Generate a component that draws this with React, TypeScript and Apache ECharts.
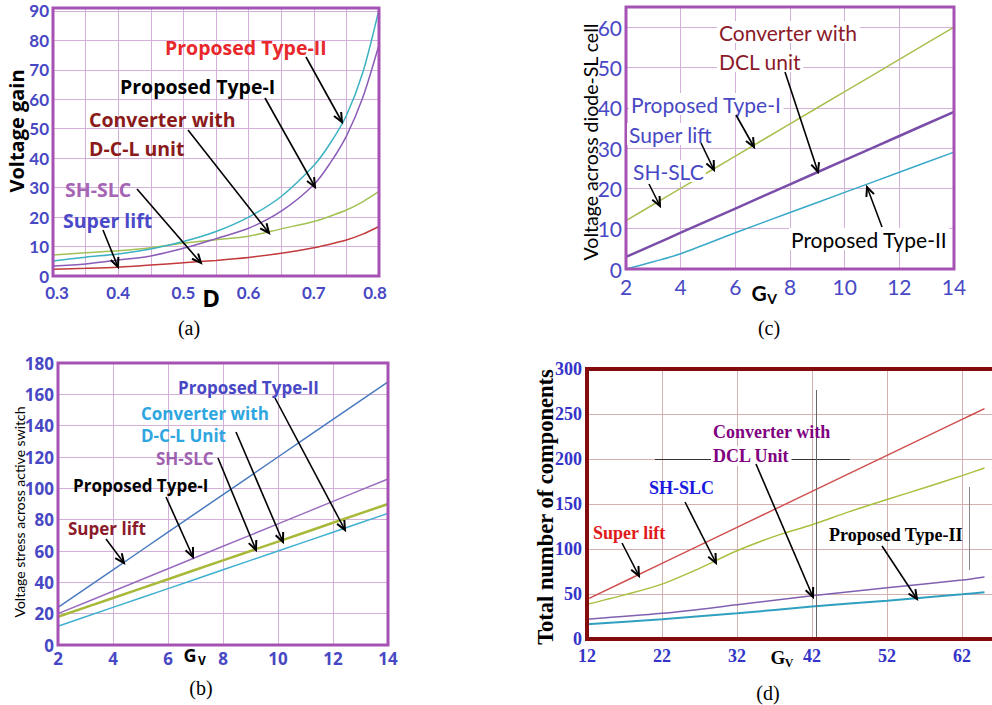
import React, { useEffect, useRef } from 'react';
import * as echarts from 'echarts';

// ---------- Panel (a): Voltage gain vs D ----------
const A_D = [0.3, 0.35, 0.4, 0.45, 0.5, 0.55, 0.6, 0.65, 0.7, 0.725, 0.75, 0.775, 0.8];
const A_TYPE2 = [5.1, 6.4, 7.5, 9.2, 11.7, 15.1, 20.0, 27.0, 37.5, 45, 54.5, 69, 90.5];
const A_TYPE1 = [3.4, 4.1, 5.4, 6.8, 9.4, 12.7, 16.2, 22, 31, 38.3, 47.5, 60.5, 78.5];
const A_DCL = [7.1, 7.9, 8.6, 9.6, 11.1, 12.3, 13.5, 16, 18.5, 20.3, 22.4, 25.2, 28.7];
const A_SL = [2.3, 2.6, 3.0, 3.7, 4.5, 5.3, 6.3, 7.7, 9.6, 10.8, 12.2, 14.2, 16.8];

// ---------- Panel (b): Voltage stress across active switch ----------
const B_GV = [2, 4, 6, 8, 10, 12, 14];
const B_BLUE = [24, 48, 72, 96, 120, 144, 168];
const B_PURPLE = [20, 34.3, 48.7, 63, 77.3, 91.7, 106];
const B_GREEN = [18, 30, 42, 54, 66, 78, 90];
const B_CYAN = [12, 24, 36, 48, 60, 72, 84];

// ---------- Panel (c): Voltage across diode-SL cell ----------
const C_GV = [2, 3, 4, 6, 8, 10, 12, 14];
const C_GREEN = [12, 16, 20, 28, 36, 44, 52, 60];
const C_PURPLE = [3, 6, 9, 15, 21, 27, 33, 39];
const C_CYAN = [0, 1.8, 3.8, 9, 14, 19, 24, 29];

// ---------- Panel (d): Total number of components ----------
const D_GV_RED = [12, 22, 32, 42, 52, 62, 65];
const D_RED = [44, 84, 124, 164, 204, 244, 256];
const D_GV_GREEN = [12, 17, 22, 27, 32, 37, 42, 47, 52, 57, 62, 65];
const D_GREEN = [38.5, 49, 61, 78.5, 98, 114, 127, 141.5, 155, 168, 181.5, 190];
const D_GV_LOW = [12, 22, 32, 42, 52, 62, 65];
const D_PURPLE = [22, 28.5, 38, 48, 57, 65.5, 69];
const D_CYAN = [16.3, 22, 28.5, 36, 42.6, 49.6, 52];

const LATO = 'Lato, "Noto Sans", sans-serif';
const OPEN = '"Open Sans", Lato, sans-serif';
const SERIF = '"Liberation Serif", "DejaVu Serif", serif';
const TICK_BLUE = '#4848c4';
const GRID_PURPLE_FRAME = '#d2b0da';
const GRID_RED_FRAME = '#d4b0b0';

const pairs = (xs: number[], ys: number[]) => xs.map((x, i) => [x, ys[i]]);

const GRIDS = [
  { left: 53, top: 8, width: 326, height: 268 }, // a
  { left: 58, top: 363, width: 330, height: 282 }, // b
  { left: 626, top: 7, width: 328, height: 262 }, // c
  { left: 587, top: 369, width: 413, height: 270 }, // d
];

function label(text: string, x: number, y: number, fill: string, font: string, size: number, bg?: boolean) {
  const style: any = {
    text, fill, font, lineHeight: size,
    textAlign: 'left', align: 'left',
    textVerticalAlign: 'middle', verticalAlign: 'middle',
  };
  if (bg) {
    style.backgroundColor = '#ffffff';
    style.padding = [0, 2];
  }
  return { type: 'text', x, y, z: 30, style };
}

function centered(text: string, x: number, y: number, font: string, rot = 0, fill = '#000') {
  return {
    type: 'text', x, y, rotation: rot, z: 30,
    style: {
      text, fill, font,
      textAlign: 'center', align: 'center',
      textVerticalAlign: 'middle', verticalAlign: 'middle',
    },
  };
}

function arrow(x1: number, y1: number, x2: number, y2: number) {
  const a = Math.atan2(y2 - y1, x2 - x1);
  const h = 10;
  const sp = 0.42;
  const p1 = [x2 - h * Math.cos(a - sp), y2 - h * Math.sin(a - sp)];
  const p2 = [x2 - h * Math.cos(a + sp), y2 - h * Math.sin(a + sp)];
  return {
    type: 'group', z: 35,
    children: [
      { type: 'line', z: 35, shape: { x1, y1, x2, y2 }, style: { stroke: '#000', lineWidth: 1.6 } },
      { type: 'polyline', z: 35, shape: { points: [p1, [x2, y2], p2] }, style: { stroke: '#000', lineWidth: 2, fill: null } },
    ],
  };
}

function border(g: any, color: string, w: number) {
  return {
    type: 'rect', z: 20,
    shape: { x: g.left, y: g.top, width: g.width, height: g.height },
    style: { stroke: color, lineWidth: w, fill: null },
  };
}

function axis(gridIndex: number, min: number, max: number, interval: number, lab: any, gridColor: string) {
  return {
    type: 'value', gridIndex, min, max, interval,
    axisLine: { show: false }, axisTick: { show: false },
    splitLine: { show: true, lineStyle: { color: gridColor, width: 1, type: 'solid' } },
    axisLabel: { showMaxLabel: false, ...lab },
  };
}

function line(name: string, xi: number, data: number[][], color: string, width = 1.5) {
  return {
    type: 'line', name, xAxisIndex: xi, yAxisIndex: xi, data,
    smooth: 0.3, showSymbol: false, symbol: 'none',
    lineStyle: { color, width }, itemStyle: { color }, z: 5,
  };
}

export default function App() {
  const ref = useRef<HTMLDivElement>(null);
  useEffect(() => {
    if (!ref.current) return;
    const chart = echarts.init(ref.current, undefined, { renderer: 'svg' });

    const labA = { color: TICK_BLUE, fontFamily: LATO, fontWeight: 'bold', fontSize: 17 };
    const labB = { color: TICK_BLUE, fontFamily: OPEN, fontWeight: 'bold', fontSize: 17 };
    const labC = { color: TICK_BLUE, fontFamily: LATO, fontWeight: 'normal', fontSize: 21 };
    const labD = { color: '#3434c8', fontFamily: SERIF, fontWeight: 'bold', fontSize: 18 };

    const fA = `bold 19.5px ${OPEN}`;
    const fB = `bold 17px ${OPEN}`;
    const fC = `21px ${LATO}`;
    const fD = `bold 18px ${SERIF}`;

    const graphics: any[] = [
      border(GRIDS[0], '#a552b4', 3),
      border(GRIDS[1], '#a552b4', 3),
      border(GRIDS[2], '#a552b4', 3),
      border(GRIDS[3], '#850c0c', 4),
      // (d) darker grid artefacts of the original figure
      { type: 'line', z: 6, shape: { x1: 655, y1: 459.5, x2: 850, y2: 459.5 }, style: { stroke: '#333', lineWidth: 1 } },
      { type: 'line', z: 6, shape: { x1: 816.5, y1: 390, x2: 816.5, y2: 637 }, style: { stroke: '#666', lineWidth: 1 } },
      { type: 'line', z: 6, shape: { x1: 969.5, y1: 487, x2: 969.5, y2: 570 }, style: { stroke: '#888', lineWidth: 1 } },

      // (a)
      label('Proposed Type-II', 165, 47, '#e8282c', fA, 20),
      label('Proposed Type-I', 120, 86, '#000000', fA, 20),
      label('Converter with', 89, 119, '#8b1a1a', fA, 20),
      label('D-C-L unit', 89, 148, '#8b1a1a', fA, 20),
      label('SH-SLC', 65, 189, '#a565b5', fA, 20),
      label('Super lift', 63, 220, '#4a4ac8', fA, 20),
      arrow(306, 57, 342, 122),
      arrow(265, 98, 315, 187),
      arrow(188, 130, 269, 233),
      arrow(137, 189, 201, 263),
      arrow(103, 230, 118, 267),
      centered('Voltage gain', 16, 131, `bold 20px ${OPEN}`, Math.PI / 2),
      centered('D', 211, 297, `bold 24px ${OPEN}`),
      centered('(a)', 189, 328, `20px ${SERIF}`),

      // (b)
      label('Proposed Type-II', 178, 387, '#4848c4', fB, 17),
      label('Converter with', 141, 413, '#2ea6df', fB, 17),
      label('D-C-L Unit', 141, 435, '#2ea6df', fB, 17),
      label('SH-SLC', 156, 458, '#a060b0', fB, 17),
      label('Proposed Type-I', 73, 485, '#000000', fB, 17),
      label('Super lift', 68, 528, '#8b1a2a', fB, 17),
      arrow(275, 398, 345, 530),
      arrow(236, 432, 283, 542),
      arrow(218, 458, 256, 550),
      arrow(166, 497, 193, 557),
      arrow(106, 539, 124, 563),
      centered('Voltage stress across active switch', 19, 512, `14px ${LATO}`, Math.PI / 2),
      centered('G', 190, 655, `bold 18px ${OPEN}`),
      centered('V', 202, 660, `bold 12px ${OPEN}`),
      centered('(b)', 201, 688, `20px ${SERIF}`),

      // (c)
      label('Converter with', 717, 32, '#8b1a2a', fC, 22, true),
      label('DCL unit', 717, 61, '#8b1a2a', fC, 22, true),
      label('Proposed Type-I', 629, 104, '#4848c4', fC, 22, true),
      label('Super lift', 627, 134, '#4848c4', fC, 22, true),
      label('SH-SLC', 631, 171, '#4848c4', fC, 22, true),
      label('Proposed Type-II', 789, 239, '#000000', fC, 22, true),
      arrow(785, 72, 818, 172),
      arrow(736, 115, 754, 147),
      arrow(701, 143, 714, 170),
      arrow(649, 184, 660, 206),
      arrow(882, 227, 867, 187),
      centered('Voltage across diode-SL cell', 590, 142, `19.5px ${LATO}`, Math.PI / 2),
      centered('G', 759, 292, `bold 21px ${LATO}`),
      centered('V', 772, 298, `bold 14px ${LATO}`),
      centered('(c)', 769, 328, `20px ${SERIF}`),

      // (d)
      label('Converter with', 713, 432, '#800080', fD, 19),
      label('DCL Unit', 711, 456, '#800080', fD, 19, true),
      label('SH-SLC', 649, 488, '#1a1ae0', fD, 19),
      label('Super lift', 593, 533, '#e01a1a', fD, 19),
      label('Proposed Type-II', 829, 535, '#000000', fD, 19),
      arrow(685, 502, 716, 563),
      arrow(622, 543, 639, 576),
      arrow(756, 464, 813, 597),
      arrow(882, 546, 917, 599),
      centered('Total number of components', 545, 507, `bold 22.5px ${SERIF}`, Math.PI / 2),
      centered('G', 778, 657, `bold 19px ${SERIF}`),
      centered('V', 789, 663, `bold 12px ${SERIF}`),
      centered('(d)', 768, 693, `20px ${SERIF}`),
    ];

    const option: any = {
      animation: false,
      grid: GRIDS.map((g) => ({ ...g, show: false })),
      xAxis: [
        axis(0, 0.3, 0.8, 0.05, {
          ...labA, margin: 8, showMaxLabel: true,
          formatter: (v: number) => {
            const k = Math.round(v * 100);
            if (k === 30) return '{first|0.3}';
            if (k === 80) return '{last|0.8}';
            return k % 10 === 0 ? (k / 100).toFixed(1) : '';
          },
          rich: {
            first: { ...labA, padding: [0, 0, 0, 8] },
            last: { ...labA, padding: [0, 8, 0, 0] },
          },
        }, GRID_PURPLE_FRAME),
        axis(1, 2, 14, 2, { ...labB, margin: 5, showMaxLabel: true }, GRID_PURPLE_FRAME),
        axis(2, 2, 14, 2, { ...labC, margin: 7, showMaxLabel: true }, GRID_PURPLE_FRAME),
        axis(3, 12, 66, 10, { ...labD, margin: 8 }, GRID_RED_FRAME),
      ],
      yAxis: [
        axis(0, 0, 91, 10, { ...labA, margin: 4 }, GRID_PURPLE_FRAME),
        axis(1, 0, 180, 20, { ...labB, margin: 4, showMaxLabel: true }, GRID_PURPLE_FRAME),
        axis(2, 0, 65, 10, { ...labC, margin: 4 }, GRID_PURPLE_FRAME),
        axis(3, 0, 300, 50, { ...labD, margin: 5, showMaxLabel: true }, GRID_RED_FRAME),
      ],
      series: [
        line('Converter with D-C-L unit', 0, pairs(A_D, A_DCL), '#a2c255'),
        line('Super lift / SH-SLC', 0, pairs(A_D, A_SL), '#c23a3c'),
        line('Proposed Type-I', 0, pairs(A_D, A_TYPE1), '#8a5cb8'),
        line('Proposed Type-II', 0, pairs(A_D, A_TYPE2), '#3cb2c2'),

        line('Super lift', 1, pairs(B_GV, B_BLUE), '#4a7ac0'),
        line('Proposed Type-I', 1, pairs(B_GV, B_PURPLE), '#9a6cc0'),
        line('SH-SLC / Converter with D-C-L Unit', 1, pairs(B_GV, B_GREEN), '#a8b838', 2.5),
        line('Proposed Type-II', 1, pairs(B_GV, B_CYAN), '#40b0d0'),

        line('Proposed Type-I / Super lift / SH-SLC', 2, pairs(C_GV, C_GREEN), '#a8c050'),
        line('Converter with DCL unit', 2, pairs(C_GV, C_PURPLE), '#7a4ea8', 2.5),
        line('Proposed Type-II', 2, pairs(C_GV, C_CYAN), '#3aa8c8'),

        line('Super lift', 3, pairs(D_GV_RED, D_RED), '#d05050'),
        line('SH-SLC', 3, pairs(D_GV_GREEN, D_GREEN), '#a8c040'),
        line('Converter with DCL Unit', 3, pairs(D_GV_LOW, D_PURPLE), '#8060b0'),
        line('Proposed Type-II', 3, pairs(D_GV_LOW, D_CYAN), '#30a0c0', 2),
      ],
      graphic: graphics,
    };

    chart.setOption(option);
    return () => chart.dispose();
  }, []);

  return (
    <div
      ref={ref}
      style={{ position: 'absolute', left: 0, top: 0, width: 992, height: 705, background: '#fff' }}
    />
  );
}
